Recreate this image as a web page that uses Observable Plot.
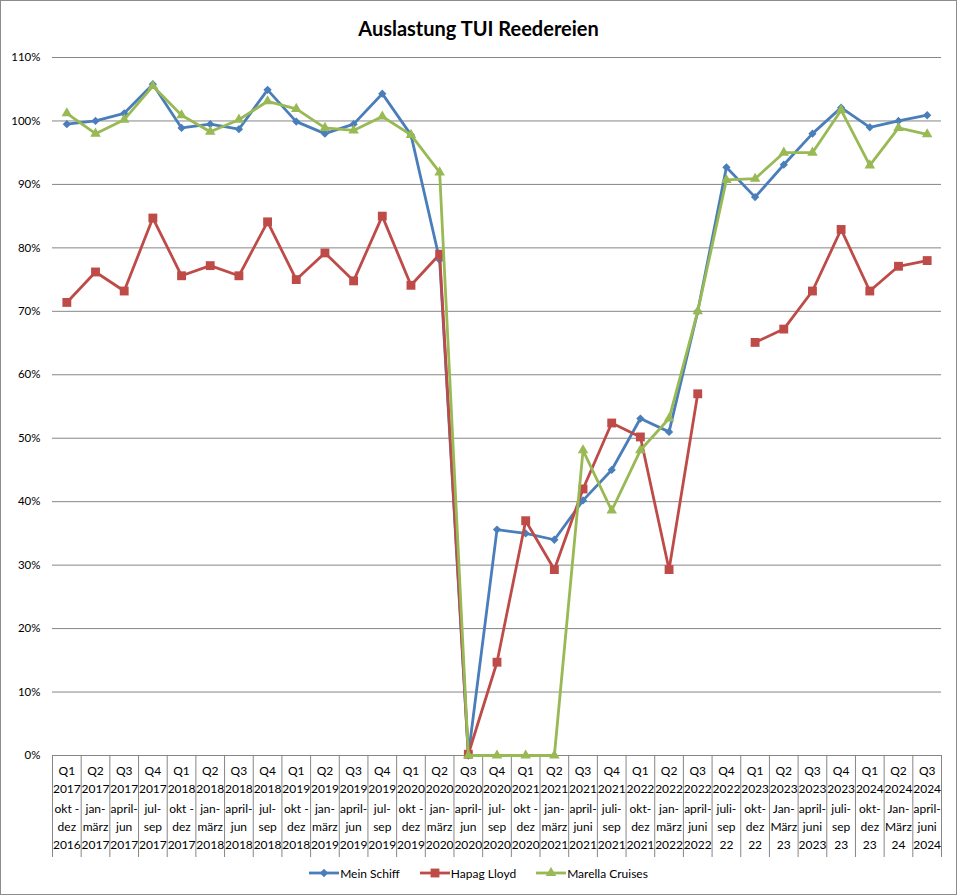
<!DOCTYPE html>
<html><head><meta charset="utf-8">
<script src="https://cdn.jsdelivr.net/npm/d3@7"></script>
<script src="https://cdn.jsdelivr.net/npm/@observablehq/plot@0.6"></script>
<style>
body{margin:0;background:#fff;font-family:Lato,"Open Sans",sans-serif;}
#wrap{position:relative;width:957px;height:895px;box-sizing:border-box;border:1px solid #8c8c8c;overflow:hidden;background:#fff;}
#title{height:34px;padding-top:10px;line-height:34px;text-align:center;font-weight:bold;font-size:20px;color:#000;}
#chart svg{display:block;}
#legend{display:flex;justify-content:center;align-items:center;gap:20px;height:16px;font-size:12px;color:#000;}
#legend .item{display:flex;align-items:center;}
#legend svg{display:block;margin-right:1px;}
</style>
</head><body>
<div id="wrap">
<div id="title">Auslastung TUI Reedereien</div>
<div id="chart"></div>
<div id="legend"></div>
</div>
<script>
const quarters = ["Q1 2017","Q2 2017","Q3 2017","Q4 2017","Q1 2018","Q2 2018","Q3 2018","Q4 2018","Q1 2019","Q2 2019","Q3 2019","Q4 2019","Q1 2020","Q2 2020","Q3 2020","Q4 2020","Q1 2021","Q2 2021","Q3 2021","Q4 2021","Q1 2022","Q2 2022","Q3 2022","Q4 2022","Q1 2023","Q2 2023","Q3 2023","Q4 2023","Q1 2024","Q2 2024","Q3 2024"];
const periods = ["okt -|dez|2016","jan-|märz|2017","april-|jun|2017","jul-|sep|2017","okt -|dez|2017","jan-|märz|2018","april-|jun|2018","jul-|sep|2018","okt -|dez|2018","jan-|märz|2019","april-|jun|2019","jul-|sep|2019","okt -|dez|2019","jan-|märz|2020","april-|jun|2020","jul-|sep|2020","okt -|dez|2020","jan-|märz|2021","april-|juni|2021","juli-|sep|2021","okt-|dez|2021","jan-|märz|2022","april-|juni|2022","juli-|sep|22","okt-|dez|22","Jan-|März|23","april-|juni|2023","juli-|sep|23","okt-|dez|23","Jan-|März|24","april-|juni|2024"];
const meinSchiff = [0.995,1.000,1.012,1.058,0.989,0.995,0.987,1.049,0.999,0.980,0.995,1.043,0.978,0.781,0.0,0.356,0.350,0.340,0.402,0.450,0.531,0.510,0.700,0.927,0.880,0.931,0.980,1.021,0.990,1.000,1.009];
const hapagLloyd = [0.714,0.762,0.732,0.847,0.756,0.772,0.756,0.841,0.750,0.792,0.748,0.850,0.741,0.790,0.002,0.147,0.370,0.293,0.420,0.524,0.502,0.293,0.570,null,0.651,0.672,0.732,0.829,0.732,0.771,0.780];
const marella = [1.012,0.980,1.002,1.055,1.009,0.983,1.002,1.031,1.019,0.989,0.985,1.007,0.978,0.919,0.0,0.0,0.0,0.0,0.481,0.386,0.481,0.531,0.700,0.907,0.909,0.950,0.950,1.017,0.930,0.989,0.979];
const yTicks = [0,0.1,0.2,0.3,0.4,0.5,0.6,0.7,0.8,0.9,1.0,1.1];
const seriesNames = ["Mein Schiff","Hapag Lloyd","Marella Cruises"];
const colors = ["#4A7EBB","#BE4B48","#98B954"];

const idx = quarters.map((_, i) => i);
const boundaries = [...idx.map(i => i - 0.5), quarters.length - 0.5];
const seriesVals = [meinSchiff, hapagLloyd, marella];
const rows = seriesVals.map((vals, s) => vals.map((v, i) => ({i, v, s})));
const symbols = [{symbol:"square", r:3.3, rotate:45},{symbol:"square", r:5, rotate:0},{symbol:"triangle", r:3.9, rotate:0}];

const marks = [
  Plot.ruleY(yTicks.slice(1), {y: d => d, stroke: "#868686", strokeWidth: 1, strokeOpacity: 1}),
  Plot.axisY({ticks: yTicks, tickFormat: d3.format(".0%"), tickSize: 0, tickPadding: 12, fontSize: 11.5, color: "#000", label: null}),
  Plot.axisX({ticks: boundaries, tickSize: 102, tickFormat: () => "", stroke: "#868686", strokeOpacity: 1, label: null}),
  Plot.ruleY([0], {stroke: "#868686", strokeWidth: 1}),
  Plot.text(idx, {x: i => i, frameAnchor: "bottom", lineAnchor: "top", dy: 7, lineHeight: 1.5, fontSize: 12, fill: "#000",
    text: i => quarters[i].split(" ").join("\n")}),
  Plot.text(idx, {x: i => i, frameAnchor: "bottom", lineAnchor: "top", dy: 45, lineHeight: 1.5, fontSize: 12, fill: "#000",
    text: i => periods[i].split("|").join("\n")})
];
rows.forEach((data, s) => {
  marks.push(Plot.line(data, {x: "i", y: "v", stroke: colors[s], strokeWidth: 2.8, curve: "linear"}));
  marks.push(Plot.dot(data.filter(d => d.v != null), {x: "i", y: "v", fill: colors[s], stroke: null, symbol: symbols[s].symbol, r: symbols[s].r, rotate: symbols[s].rotate}));
});

const chart = Plot.plot({
  width: 955,
  height: 820,
  marginTop: 12,
  marginBottom: 110,
  marginLeft: 51,
  marginRight: 15,
  style: {fontFamily: "Lato, 'Open Sans', sans-serif", background: "#fff", overflow: "visible"},
  x: {type: "linear", domain: [-0.5, quarters.length - 0.5], axis: null},
  y: {domain: [0, 1.1], axis: null},
  marks
});
document.getElementById("chart").append(chart);

const legend = document.getElementById("legend");
seriesNames.forEach((name, s) => {
  const item = document.createElement("div");
  item.className = "item";
  const sym = symbols[s];
  const path = d3.symbol(sym.symbol === "square" ? d3.symbolSquare : d3.symbolTriangle, Math.PI * sym.r * sym.r)();
  item.innerHTML = `<svg width="30" height="12"><line x1="0" y1="6" x2="30" y2="6" stroke="${colors[s]}" stroke-width="2.8"/><path d="${path}" transform="translate(15,6) rotate(${sym.rotate})" fill="${colors[s]}"/></svg><span>${name}</span>`;
  legend.append(item);
});
</script>
</body></html>
